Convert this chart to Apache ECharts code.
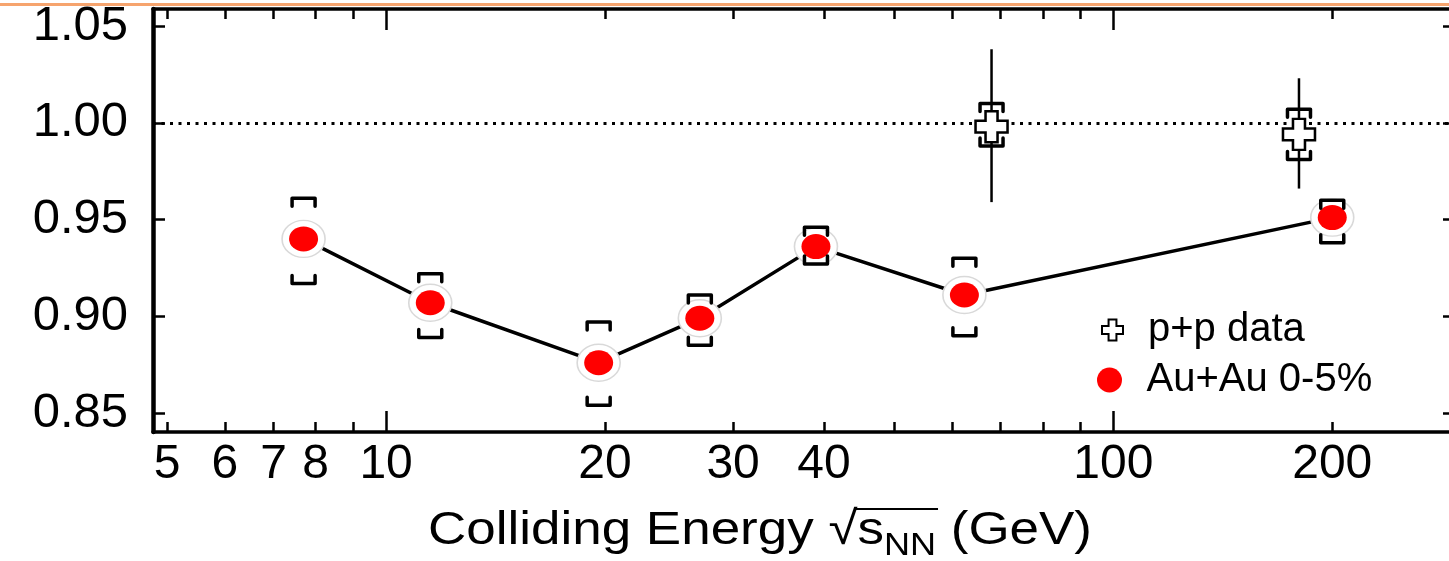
<!DOCTYPE html>
<html>
<head>
<meta charset="utf-8">
<script src="https://cdn.jsdelivr.net/npm/echarts@6/dist/echarts.min.js"></script>
<style>
html,body{margin:0;padding:0;background:#ffffff;}
#chart{width:1449px;height:561px;}
</style>
</head>
<body>
<div id="chart"></div>
<script>
// ---------------- data ----------------
const auEnergy   = [7.7, 11.5, 19.6, 27, 39, 62.4, 200];
const auRatio    = [0.940, 0.907, 0.876, 0.899, 0.936, 0.911, 0.951];
const auSysHigh  = [0.961, 0.922, 0.897, 0.911, 0.946, 0.930, 0.960];
const auSysLow   = [0.917, 0.889, 0.854, 0.885, 0.927, 0.890, 0.938];

const ppEnergy   = [68, 180];
const ppRatio    = [0.998, 0.994];
const ppStatHigh = [1.038, 1.023];
const ppStatLow  = [0.959, 0.966];
const ppSysHigh  = [1.010, 1.007];
const ppSysLow   = [0.988, 0.981];

const xTickValues  = [5, 6, 7, 8, 9, 10, 20, 30, 40, 50, 60, 70, 80, 90, 100, 200];
const xMajorTicks  = [10, 100];
const xLabelValues = [5, 6, 7, 8, 10, 20, 30, 40, 100, 200];
const yTickValues  = [0.85, 0.90, 0.95, 1.00, 1.05];
const referenceRatio = 1.0;

const xRange = [4.78, 295];
const yRange = [0.8402, 1.0588];

// ---------------- helpers ----------------
const lg = v => Math.log10(v);
const FONT = '"Liberation Sans", Arial, Helvetica, sans-serif';
const crossPath = 'path://M10,0H22V10H32V22H22V32H10V22H0V10H10Z';

const auPoints = auEnergy.map((e, i) => [lg(e), auRatio[i]]);
const auSys    = auEnergy.map((e, i) => [lg(e), auSysHigh[i], auSysLow[i]]);
const ppPoints = ppEnergy.map((e, i) => [lg(e), ppRatio[i]]);
const ppErr    = ppEnergy.map((e, i) => [lg(e), ppSysHigh[i], ppSysLow[i], ppStatHigh[i], ppStatLow[i]]);

const bracketStyle = {stroke: '#000', lineWidth: 3.5, fill: null, lineJoin: 'round', lineCap: 'round'};
function brackets(pHi, pLo, w, arm) {
  return [
    {type: 'polyline', shape: {points: [[pHi[0]-w, pHi[1]+arm], [pHi[0]-w, pHi[1]], [pHi[0]+w, pHi[1]], [pHi[0]+w, pHi[1]+arm]]}, style: bracketStyle},
    {type: 'polyline', shape: {points: [[pLo[0]-w, pLo[1]-arm], [pLo[0]-w, pLo[1]], [pLo[0]+w, pLo[1]], [pLo[0]+w, pLo[1]-arm]]}, style: bracketStyle}
  ];
}
function renderAuSys(params, api) {
  const x = api.value(0);
  const pHi = api.coord([x, api.value(1)]);
  const pLo = api.coord([x, api.value(2)]);
  return {type: 'group', children: brackets(pHi, pLo, 11.5, 8)};
}
function renderPpErr(params, api) {
  const x = api.value(0);
  const pHi = api.coord([x, api.value(1)]);
  const pLo = api.coord([x, api.value(2)]);
  const sHi = api.coord([x, api.value(3)]);
  const sLo = api.coord([x, api.value(4)]);
  const children = [
    {type: 'line', shape: {x1: sHi[0], y1: sHi[1], x2: sLo[0], y2: sLo[1]}, style: {stroke: '#000', lineWidth: 2.5}}
  ].concat(brackets(pHi, pLo, 11.5, 8));
  return {type: 'group', children};
}

// ---------------- title layout (measured) ----------------
const mc = document.createElement('canvas').getContext('2d');
function tw(txt, size) { mc.font = size + 'px ' + FONT; return mc.measureText(txt).width; }
const tParts = [
  {t: 'Colliding Energy ', s: 47, dy: 0},
  {t: '\u221A', s: 47, dy: 0},
  {t: 's', s: 47, dy: 0},
  {t: 'NN', s: 32, dy: 15},
  {t: ' (GeV)', s: 47, dy: 0}
];
const titleLeft = 428, titleRight = 1092, titleMid = 531;
let tot = 0; tParts.forEach(p => { p.w = tw(p.t, p.s); tot += p.w; });
const tScale = (titleRight - titleLeft) / tot;
let cx = titleLeft;
const titleEls = [];
let barStart = 0, barEnd = 0;
tParts.forEach((p, i) => {
  titleEls.push({type: 'text', x: cx, y: titleMid + p.dy, scaleX: tScale, z: 10,
    style: {text: p.t, fontSize: p.s, fontFamily: FONT, fill: '#000', verticalAlign: 'middle', align: 'left'}});
  if (i === 1) barStart = cx + p.w * tScale - 3;
  cx += p.w * tScale;
  if (i === 3) barEnd = cx + 2;
});
titleEls.push({type: 'line', z: 10, shape: {x1: barStart, y1: 509, x2: barEnd, y2: 509}, style: {stroke: '#000', lineWidth: 2}});

// ---------------- chart ----------------
const chart = echarts.init(document.getElementById('chart'), null, {renderer: 'canvas'});

const baseX = {
  type: 'value', min: lg(xRange[0]), max: lg(xRange[1]), gridIndex: 0,
  splitLine: {show: false}
};
const baseY = {
  type: 'value', min: yRange[0], max: yRange[1], gridIndex: 0,
  splitLine: {show: false}
};

chart.setOption({
  animation: false,
  backgroundColor: '#ffffff',
  textStyle: {fontFamily: FONT, color: '#000'},
  grid: {left: 153, right: -6, top: 9, bottom: 129, containLabel: false, outerBoundsMode: 'none'},
  xAxis: [
    Object.assign({}, baseX, {
      position: 'bottom',
      axisLine: {show: true, onZero: false, lineStyle: {color: '#000', width: 3.5}},
      axisTick: {show: true, inside: true, length: 10, lineStyle: {color: '#000', width: 2.5}, customValues: xTickValues.map(lg)},
      axisLabel: {show: true, customValues: xLabelValues.map(lg), margin: 9, fontSize: 48, color: '#000', fontFamily: FONT,
        formatter: v => String(Math.round(Math.pow(10, v)))}
    }),
    Object.assign({}, baseX, {
      position: 'bottom',
      axisLine: {show: false},
      axisTick: {show: true, inside: true, length: 21, lineStyle: {color: '#000', width: 2.5}, customValues: xMajorTicks.map(lg)},
      axisLabel: {show: false}
    }),
    Object.assign({}, baseX, {
      position: 'top',
      axisLine: {show: true, onZero: false, lineStyle: {color: '#000', width: 3.5}},
      axisTick: {show: true, inside: true, length: 10, lineStyle: {color: '#000', width: 2.5}, customValues: xTickValues.map(lg)},
      axisLabel: {show: false}
    }),
    Object.assign({}, baseX, {
      position: 'top',
      axisLine: {show: false},
      axisTick: {show: true, inside: true, length: 21, lineStyle: {color: '#000', width: 2.5}, customValues: xMajorTicks.map(lg)},
      axisLabel: {show: false}
    })
  ],
  yAxis: [
    Object.assign({}, baseY, {
      position: 'left',
      axisLine: {show: true, onZero: false, lineStyle: {color: '#000', width: 4.5}},
      axisTick: {show: true, inside: true, length: 12, lineStyle: {color: '#000', width: 2.5}, customValues: yTickValues},
      axisLabel: {show: true, customValues: yTickValues, margin: 25, fontSize: 49, color: '#000', fontFamily: FONT,
        formatter: v => v.toFixed(2)}
    }),
    Object.assign({}, baseY, {
      position: 'right',
      axisLine: {show: true, onZero: false, lineStyle: {color: '#000', width: 3.5}},
      axisTick: {show: true, inside: true, length: 12, lineStyle: {color: '#000', width: 2.5}, customValues: yTickValues},
      axisLabel: {show: false}
    })
  ],
  legend: [
    {
      data: [{name: 'p+p data', icon: crossPath, itemStyle: {color: '#fff', borderColor: '#000', borderWidth: 2, opacity: 1}}],
      left: 1096, top: 305, itemWidth: 21, itemHeight: 21, selectedMode: false,
      textStyle: {fontSize: 40, color: '#000', fontFamily: FONT, padding: [0, 0, 0, 20]}
    },
    {
      data: [{name: 'Au+Au 0-5%', icon: 'circle', itemStyle: {color: '#ff0000', borderWidth: 0, opacity: 1}}],
      left: 1092, top: 355, itemWidth: 30, itemHeight: 25, selectedMode: false,
      textStyle: {fontSize: 40, color: '#000', fontFamily: FONT, padding: [0, 0, 0, 17]}
    }
  ],
  series: [
    {
      name: 'Au+Au 0-5%', type: 'line', data: auPoints, showSymbol: false, silent: true, z: 2,
      lineStyle: {color: '#000', width: 3.5},
      markLine: {
        silent: true, symbol: 'none', label: {show: false},
        lineStyle: {color: '#000', type: [3, 5.5], width: 3, opacity: 1},
        data: [{yAxis: referenceRatio}]
      }
    },
    {
      name: 'Au+Au 0-5%', type: 'scatter', data: auPoints, symbol: 'circle', symbolSize: [43, 37], silent: true, z: 3,
      itemStyle: {color: '#ffffff', borderColor: '#d9d9d9', borderWidth: 1.5, opacity: 1}
    },
    {
      name: 'Au+Au 0-5%', type: 'scatter', data: auPoints, symbol: 'circle', symbolSize: [29, 25], silent: true, z: 4,
      itemStyle: {color: '#ff0000', opacity: 1}
    },
    {
      name: 'Au+Au 0-5%', type: 'custom', data: auSys, renderItem: renderAuSys, silent: true, z: 5,
      encode: {x: 0, y: [1, 2]}
    },
    {
      name: 'p+p data', type: 'custom', data: ppErr, renderItem: renderPpErr, silent: true, z: 3,
      encode: {x: 0, y: [1, 2, 3, 4]}
    },
    {
      name: 'p+p data', type: 'scatter', data: ppPoints, symbol: crossPath, symbolSize: [32, 31], silent: true, z: 6,
      itemStyle: {color: '#ffffff', borderColor: '#000', borderWidth: 2.5, opacity: 1}
    }
  ],
  graphic: [
    {type: 'rect', z: 20, shape: {x: 0, y: 3, width: 1449, height: 3}, style: {fill: '#f6a46e'}}
  ].concat(titleEls)
});
</script>
</body>
</html>
